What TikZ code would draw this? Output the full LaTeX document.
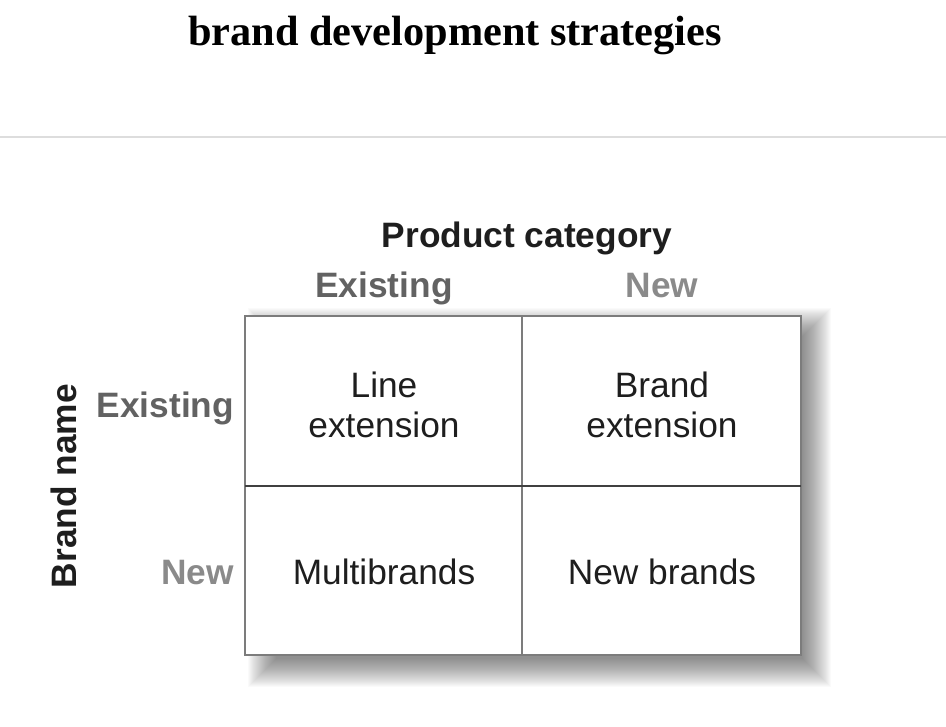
\documentclass[tikz,border=0pt]{standalone}
\usepackage{fontspec}
\setmainfont{Liberation Serif}
\setsansfont{Liberation Sans}
\usetikzlibrary{positioning}
\definecolor{inkdark}{HTML}{1E1E1E}
\definecolor{oldgray}{HTML}{626262}
\definecolor{newgray}{HTML}{8A8A8A}
\definecolor{gridgray}{HTML}{7C7C7C}
\definecolor{rulegray}{HTML}{DDDDDD}
\tikzset{
  cellfont/.style={font=\sffamily\fontsize{25.1}{28.5}\selectfont},
  headfont/.style={font=\sffamily\bfseries\fontsize{25.1}{28.5}\selectfont}
}

\begin{document}
\begin{tikzpicture}[x=0.025cm, y=-0.025cm, text=inkdark]
\useasboundingbox (0,0) rectangle (946,726);

% title and rule
\node[font=\rmfamily\bfseries\fontsize{30.1}{36}\selectfont, text=black, anchor=base] (title) at (455,45) {brand development strategies};
\draw[rulegray, line width=0.8pt] (0,137) -- (946,137);

% soft shadow under the grid
\foreach \k in {0,...,28}{
  \fill[black, opacity=0.021] (276-\k,336-\k) rectangle (803+\k,659+\k);
}
\fill[white] (245,316) rectangle (801,655);
\draw[gridgray, line width=1.1pt] (245,316) rectangle (801,655);
\draw[gridgray, line width=0.9pt] (522,316) -- (522,655);
\draw[inkdark!85, line width=0.9pt] (245,486) -- (801,486);

% axis headings
\node[headfont, anchor=base] (prodcat) at (527,247) {Product category};
\node[headfont, text=oldgray, anchor=base] (colold) at (384,297) {Existing};
\node[headfont, text=newgray, anchor=base] (colnew) at (662,297) {New};
\node[headfont, text=oldgray, anchor=base east] (rowold) at (239,417) {Existing};
\node[headfont, text=newgray, anchor=base east] (rownew) at (239,584) {New};
\node[headfont, rotate=90, anchor=base] (brandname) at (76,486) {Brand name};

% cells
\node[cellfont, align=center] (lineext) at (384,405) {Line\\extension};
\node[cellfont, align=center] (brandext) at (662,405) {Brand\\extension};
\node[cellfont, anchor=base] (multi) at (384,584) {Multibrands};
\node[cellfont, anchor=base] (newbrands) at (662,584) {New brands};
\end{tikzpicture}
\end{document}
